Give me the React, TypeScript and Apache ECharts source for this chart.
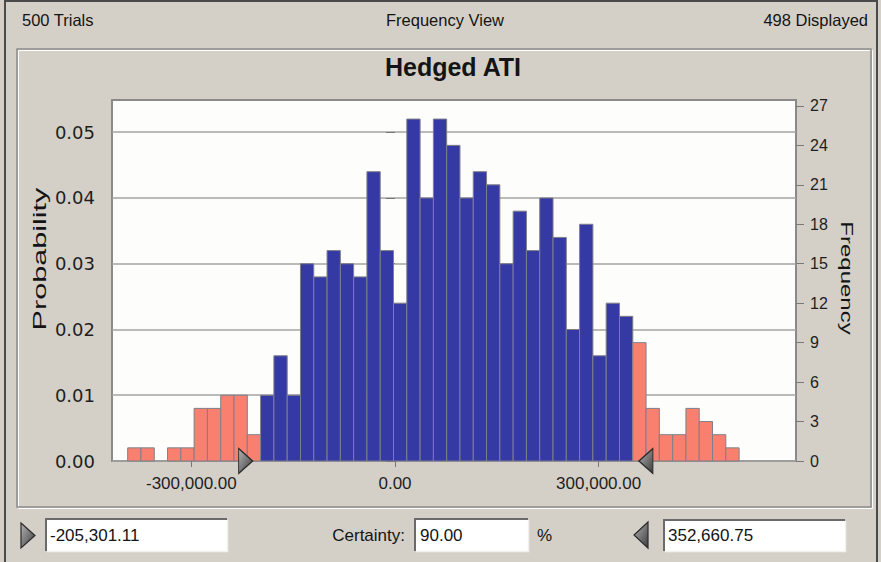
import React, { useEffect, useRef } from "react";
import * as echarts from "echarts";

// ---- data ----
const binCounts = [
  1, 1, 0, 1, 1, 4, 4, 5, 5, 2,
  5, 8, 5, 15, 14, 16, 15, 14, 22, 16,
  12, 26, 20, 26, 24, 20, 22, 21, 15, 19,
  16, 20, 17, 10, 18, 8, 12, 11, 9, 4,
  2, 2, 4, 3, 2, 1,
];
const firstBinStart = -393800;
const binWidth = 19580;
const certaintyLow = -205301.11;
const certaintyHigh = 352660.75;
const certaintyPct = 90.0;
const trials = 500;
const displayed = 498;
const xTicks = [-300000, 0, 300000];
const probTicks = [0, 0.01, 0.02, 0.03, 0.04, 0.05];
const freqTicks = [0, 3, 6, 9, 12, 15, 18, 21, 24, 27];
const xMin = -416900;
const xMax = 590700;
const probMax = 0.0549;
const freqMax = 27.45;
const chartTitle = "Hedged ATI";

const BLUE = "#3539a3";
const PINK = "#f9806f";
const GRAY_BG = "#d4d0c8";
const ARIAL = "'Liberation Sans', Arial, sans-serif";
const DEJAVU = "'DejaVu Sans', Verdana, sans-serif";

const fmtNum = (v: number) =>
  v.toLocaleString("en-US", { minimumFractionDigits: 2, maximumFractionDigits: 2 });

function txt(
  text: string,
  x: number,
  y: number,
  size: number,
  align: string,
  extra: any = {}
) {
  return {
    type: "text",
    x,
    y,
    silent: true,
    z: 100,
    ...extra,
    style: {
      text,
      x: 0,
      y: 0,
      font: `${extra.bold ? "bold " : ""}${size}px ${ARIAL}`,
      fill: "#141414",
      align,
      textAlign: align,
      verticalAlign: "middle",
      textVerticalAlign: "middle",
    },
  };
}

function sunkenBox(x: number, y: number, w: number, h: number) {
  return [
    { type: "rect", shape: { x, y, width: w, height: h }, style: { fill: "#ffffff" }, silent: true, z: 90 },
    {
      type: "polyline",
      shape: { points: [[x, y + h], [x, y], [x + w, y]] },
      style: { stroke: "#6a6a6a", lineWidth: 2, fill: null },
      silent: true,
      z: 91,
    },
    {
      type: "polyline",
      shape: { points: [[x + 1, y + h + 0.5], [x + w + 0.5, y + h + 0.5], [x + w + 0.5, y + 1]] },
      style: { stroke: "#f2f1ee", lineWidth: 1.5, fill: null },
      silent: true,
      z: 91,
    },
  ];
}

const markerFill = () =>
  new echarts.graphic.LinearGradient(0, 0, 1, 1, [
    { offset: 0, color: "#b4b4b4" },
    { offset: 1, color: "#3c3c3c" },
  ]);

export default function App() {
  const ref = useRef<HTMLDivElement>(null);

  useEffect(() => {
    if (!ref.current) return;
    const chart = echarts.init(ref.current, undefined, { renderer: "svg" });

    const bins = binCounts.map((c, i) => {
      const s = firstBinStart + i * binWidth;
      const e = s + binWidth;
      const inside = s >= certaintyLow && e <= certaintyHigh ? 1 : 0;
      return [s, e, c, inside];
    });

    const graphic: any[] = [
      // window frame
      { type: "line", shape: { x1: 4, y1: 1, x2: 878, y2: 1 }, style: { stroke: "#4a4a4a", lineWidth: 2 }, silent: true },
      { type: "line", shape: { x1: 5, y1: 0, x2: 5, y2: 562 }, style: { stroke: "#4a4a4a", lineWidth: 2 }, silent: true },
      { type: "line", shape: { x1: 877, y1: 0, x2: 877, y2: 562 }, style: { stroke: "#4a4a4a", lineWidth: 2 }, silent: true },
      // inner panel
      { type: "rect", shape: { x: 18.5, y: 50.5, width: 854, height: 458 }, style: { fill: null, stroke: "#ffffff", lineWidth: 1 }, silent: true },
      { type: "rect", shape: { x: 17, y: 49, width: 854, height: 458 }, style: { fill: null, stroke: "#8a8a8a", lineWidth: 1.5 }, silent: true },
      // header
      txt(`${trials} Trials`, 22, 20, 16.5, "left"),
      txt("Frequency View", 445, 20, 16.5, "center"),
      txt(`${displayed} Displayed`, 868, 20, 16.5, "right"),
      // title
      txt(chartTitle, 453, 67, 25, "center", { bold: true }),
      // axis names (stretched along baseline as in the reference)
      { ...txt("Probability", 40, 259, 18, "center"), rotation: Math.PI / 2, scaleX: 1.7, scaleY: 1 },
      { ...txt("Frequency", 846, 278, 16, "center"), rotation: -Math.PI / 2, scaleX: 1.5, scaleY: 1 },
      // bottom controls
      {
        type: "polygon",
        shape: { points: [[21, 523], [35, 535.5], [21, 548]] },
        style: { fill: markerFill(), stroke: "#2b2b2b", lineWidth: 1.2 },
        silent: true,
        z: 95,
      },
      ...sunkenBox(46, 519, 181, 32),
      txt(fmtNum(certaintyLow), 50, 535, 17, "left"),
      txt("Certainty:", 405, 535, 17, "right"),
      ...sunkenBox(415, 519, 113, 32),
      txt(certaintyPct.toFixed(2), 420, 535, 17, "left"),
      txt("%", 537, 535, 17, "left"),
      {
        type: "polygon",
        shape: { points: [[648, 522], [634, 535], [648, 548]] },
        style: { fill: markerFill(), stroke: "#2b2b2b", lineWidth: 1.2 },
        silent: true,
        z: 95,
      },
      ...sunkenBox(664, 520, 181, 31),
      txt(fmtNum(certaintyHigh), 668, 535.5, 17, "left"),
    ];

    const option: any = {
      animation: false,
      backgroundColor: GRAY_BG,
      grid: {
        left: 112,
        top: 100,
        width: 684,
        height: 361,
        show: true,
        backgroundColor: "#fdfdfb",
        borderColor: "#8a8a8a",
        borderWidth: 2,
      },
      xAxis: {
        type: "value",
        min: xMin,
        max: xMax,
        axisLine: { show: false },
        splitLine: { show: false },
        axisTick: { show: true, customValues: xTicks, length: 6, lineStyle: { color: "#777", width: 1 } },
        axisLabel: {
          customValues: xTicks,
          formatter: (v: number) => fmtNum(v),
          fontFamily: ARIAL,
          fontSize: 17,
          color: "#1e1e1e",
          margin: 14,
        },
      },
      yAxis: [
        {
          type: "value",
          position: "left",
          min: 0,
          max: probMax,
          interval: 0.01,
          axisLine: { show: false },
          axisTick: { show: true, customValues: probTicks, length: 9, lineStyle: { color: "#777", width: 1 } },
          axisLabel: {
            customValues: probTicks,
            formatter: (v: number) => v.toFixed(2),
            fontFamily: DEJAVU,
            fontSize: 18,
            color: "#1e1e1e",
            margin: 17,
          },
          splitLine: { show: true, lineStyle: { color: "#a3a3a3", width: 1.5 } },
        },
        {
          type: "value",
          position: "right",
          min: 0,
          max: freqMax,
          axisLine: { show: false },
          axisTick: { show: true, customValues: freqTicks, length: 8, lineStyle: { color: "#777", width: 1 } },
          axisLabel: {
            customValues: freqTicks,
            fontFamily: ARIAL,
            fontSize: 16,
            color: "#1e1e1e",
            margin: 14,
          },
          splitLine: { show: false },
        },
      ],
      series: [
        {
          type: "custom",
          xAxisIndex: 0,
          yAxisIndex: 1,
          data: bins,
          encode: { x: [0, 1], y: 2 },
          renderItem: (_p: any, api: any) => {
            const c = api.value(2);
            if (!c) return null;
            const p0 = api.coord([api.value(0), c]);
            const p1 = api.coord([api.value(1), 0]);
            return {
              type: "rect",
              shape: { x: p0[0], y: p0[1], width: p1[0] - p0[0], height: p1[1] - p0[1] },
              style: {
                fill: api.value(3) ? BLUE : PINK,
                stroke: "#7f7f8a",
                lineWidth: 1,
              },
            };
          },
          silent: true,
          z: 3,
        },
        {
          type: "scatter",
          xAxisIndex: 0,
          yAxisIndex: 1,
          data: [[certaintyLow, 0]],
          symbol: "path://M0,0 L1,0.5 L0,1 Z",
          symbolSize: [14, 25],
          symbolOffset: [-10, 0],
          clip: false,
          silent: true,
          z: 5,
          itemStyle: { color: markerFill(), borderColor: "#2b2b2b", borderWidth: 1.2, opacity: 1 },
        },
        {
          type: "scatter",
          xAxisIndex: 0,
          yAxisIndex: 1,
          data: [[certaintyHigh, 0]],
          symbol: "path://M1,0 L0,0.5 L1,1 Z",
          symbolSize: [14, 25],
          symbolOffset: [11.5, 0],
          clip: false,
          silent: true,
          z: 5,
          itemStyle: { color: markerFill(), borderColor: "#2b2b2b", borderWidth: 1.2, opacity: 1 },
        },
      ],
      graphic,
    };

    chart.setOption(option);
    return () => chart.dispose();
  }, []);

  return (
    <div
      ref={ref}
      style={{ position: "absolute", left: 0, top: 0, width: 881, height: 562 }}
    />
  );
}
